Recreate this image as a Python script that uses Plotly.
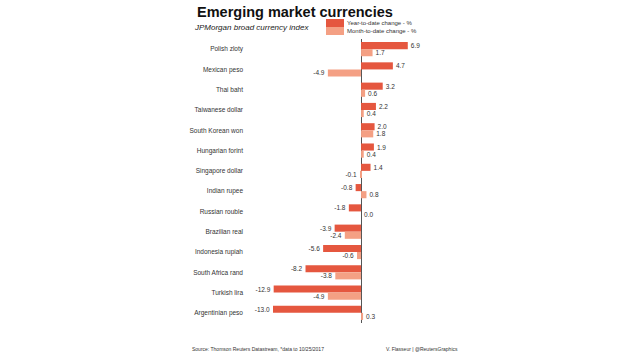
import plotly.graph_objects as go

currencies = ["Polish zloty", "Mexican peso", "Thai baht", "Taiwanese dollar",
              "South Korean won", "Hungarian forint", "Singapore dollar",
              "Indian rupee", "Russian rouble", "Brazilian real",
              "Indonesia rupiah", "South Africa rand", "Turkish lira",
              "Argentinian peso"]
ytd = [6.9, 4.7, 3.2, 2.2, 2.0, 1.9, 1.4, -0.8, -1.8, -3.9, -5.6, -8.2, -12.9, -13.0]
mtd = [1.7, -4.9, 0.6, 0.4, 1.8, 0.4, -0.1, 0.8, 0.0, -2.4, -0.6, -3.8, -4.9, 0.3]
series_names = ["Year-to-date change - %", "Month-to-date change - %"]

C_YTD = "#E5573F"
C_MTD = "#F4A084"
FONT = "Liberation Sans, Arial, sans-serif"

W, H = 620, 354
ML, MR, MT, MB = 252, 198, 39, 31
ph = H - MT - MB
pw = W - ML - MR
def px_x(x): return (x - ML) / pw
def px_y(y): return (H - MB - y) / ph

fig = go.Figure()
for vals, name, col in [(ytd, series_names[0], C_YTD), (mtd, series_names[1], C_MTD)]:
    fig.add_trace(go.Bar(
        y=currencies, x=vals, orientation="h", name=name,
        marker=dict(color=col, line=dict(width=0)),
        text=[f"{v:.1f}" for v in vals], textposition="outside",
        textfont=dict(size=6.5, color="#333333", family=FONT),
        constraintext="none", cliponaxis=False, showlegend=False))

shapes = []
annotations = [
    dict(text="<b>Emerging market currencies</b>", x=px_x(195), y=px_y(12),
         font=dict(size=14.5, color="#111111", family=FONT)),
    dict(text="<i>JPMorgan broad currency index</i>", x=px_x(192), y=px_y(28),
         font=dict(size=8, color="#222222", family=FONT)),
    dict(text="Source: Thomson Reuters Datastream, *data to 10/25/2017",
         x=px_x(190), y=px_y(349), font=dict(size=5, color="#333333", family=FONT)),
    dict(text="V. Flasseur | @ReutersGraphics",
         x=px_x(384), y=px_y(349), font=dict(size=5, color="#333333", family=FONT)),
]
# legend swatches + labels
for i, (name, col) in enumerate(zip(series_names, [C_YTD, C_MTD])):
    y0 = 19 + i * 8
    shapes.append(dict(type="rect", xref="paper", yref="paper",
                       x0=px_x(326), x1=px_x(344), y0=px_y(y0), y1=px_y(y0 + 8),
                       fillcolor=col, line=dict(width=0)))
    annotations.append(dict(text=name, x=px_x(345), y=px_y(y0 + 4),
                            font=dict(size=6, color="#333333", family=FONT)))
for a in annotations:
    a.update(xref="paper", yref="paper", xanchor="left", yanchor="middle",
             showarrow=False)

fig.update_layout(
    width=W, height=H,
    margin=dict(l=ML, r=MR, t=MT, b=MB),
    paper_bgcolor="white", plot_bgcolor="white",
    barmode="group", bargap=0.3, bargroupgap=0.0,
    font=dict(family=FONT, color="#333333"),
    showlegend=False,
    xaxis=dict(range=[-16.1, 9.0], showgrid=False, showticklabels=False,
               zeroline=True, zerolinecolor="#555555", zerolinewidth=1,
               showline=False, ticks=""),
    yaxis=dict(autorange="reversed", showgrid=False, showline=False,
               ticks="", ticklabelstandoff=8,
               tickfont=dict(size=6.5, color="#333333", family=FONT)),
    shapes=shapes,
    annotations=annotations,
)

fig.write_html("out.html")
